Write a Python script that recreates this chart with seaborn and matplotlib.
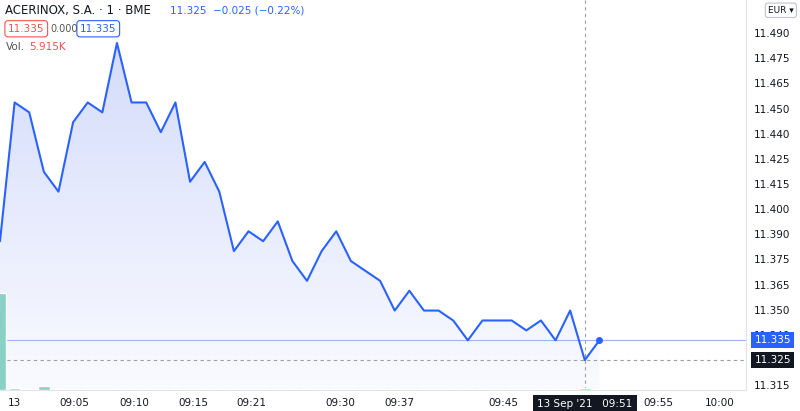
import matplotlib
matplotlib.use('Agg')
import matplotlib.pyplot as plt
import numpy as np
import seaborn as sns

# one-minute closes, ACERINOX BME, 13 Sep 2021
price = [11.385, 11.455, 11.450, 11.420, 11.410, 11.445, 11.455, 11.450, 11.485, 11.455,
         11.455, 11.440, 11.455, 11.415, 11.425, 11.410, 11.380, 11.390, 11.385, 11.395,
         11.375, 11.365, 11.380, 11.390, 11.375, 11.370, 11.365, 11.350, 11.360, 11.350,
         11.350, 11.345, 11.335, 11.345, 11.345, 11.345, 11.340, 11.345, 11.335, 11.350,
         11.325, 11.335]
volume = [5915, 150, 60, 250, 60, 40, 60, 70, 40, 60, 40, 60, 40, 60, 40, 70, 40, 40, 40, 50,
          50, 40, 50, 50, 40, 50, 50, 50, 50, 40, 50, 40, 40, 40, 40, 40, 50, 60, 50, 70, 120, 40]
vol_up = [1, 1, 0, 1, 0, 0, 1, 1, 0, 0, 0, 0, 0, 0, 0, 1, 0, 0, 0, 0,
          0, 0, 0, 0, 0, 0, 0, 0, 1, 0, 0, 0, 0, 0, 1, 1, 1, 1, 0, 1, 0, 1]
tick_pos = [1.0, 5.1, 9.2, 13.2, 17.2, 23.3, 27.3, 34.4, 45.0, 49.2]
tick_lab = ['13', '09:05', '09:10', '09:15', '09:21', '09:30', '09:37', '09:45', '09:55', '10:00']
ytick_lab = ['11.490', '11.475', '11.465', '11.450', '11.440', '11.425', '11.415', '11.400',
             '11.390', '11.375', '11.365', '11.350', '11.340', '', '11.315']

sns.set_style('white')
plt.rcParams['font.family'] = ['DejaVu Sans']

fig = plt.figure(figsize=(8, 4.11), dpi=100)
ax = fig.add_axes([0, 0.051, 0.932, 0.949])
x = np.arange(len(price))
ymin, ymax = 11.3099, 11.5067

grad = np.linspace(1, 0, 256).reshape(-1, 1)
cmap = matplotlib.colors.LinearSegmentedColormap.from_list('g', ['#fafbff', '#d4dcfb'])
im = ax.imshow(grad, extent=[0, len(price) - 1, ymin, max(price)], aspect='auto', cmap=cmap,
               origin='upper', zorder=1)
poly = ax.fill_between(x, price, ymin, color='none')
im.set_clip_path(poly.get_paths()[0], transform=ax.transData)
sns.lineplot(x=x, y=price, ax=ax, color='#2962ff', lw=1.5, zorder=3)
ax.plot(x[-1], price[-1], 'o', color='#2962ff', ms=4, zorder=4)

ax.axhline(11.335, color='#9fb4f7', lw=0.8)
ax.axhline(11.325, color='#9a9ea8', lw=0.8, ls=(0, (3, 3)))
ax.axvline(40, color='#9a9ea8', lw=0.8, ls=(0, (3, 3)))

# volume on its own scale at the bottom, above the area fill
vax = ax.twinx()
vcol = ['#89d0c6' if u else '#f6b6b3' for u in vol_up]
vax.bar(x, volume, width=0.8, color=vcol, align='center')
vax.set_ylim(0, 5915 / 0.25)
vax.axis('off')

ax.set_xlim(0, 51)
ax.set_ylim(ymin, ymax)
ax.set_xticks(tick_pos, tick_lab)
ax.yaxis.tick_right()
ax.set_yticks(np.linspace(11.490, 11.3124, len(ytick_lab)))
ax.set_yticklabels(ytick_lab)
ax.tick_params(axis='both', length=0, labelsize=7.5, colors='#131722', pad=6)
for s in ['top', 'left']:
    ax.spines[s].set_visible(False)
ax.spines['right'].set_color('#e0e3eb')
ax.spines['bottom'].set_color('#e0e3eb')

fig.text(0.006, 0.975, 'ACERINOX, S.A. · 1 · BME', fontsize=8.5, color='#131722', va='center')
fig.text(0.2125, 0.975, '11.325  −0.025 (−0.22%)', fontsize=7.5, color='#2962ff', va='center')
for xx, t, c in [(0.01, '11.335', '#ef5350'), (0.1, '11.335', '#2962ff')]:
    fig.text(xx, 0.93, t, fontsize=7.5, color=c, va='center',
             bbox=dict(boxstyle='round,pad=0.3', fc='white', ec=c, lw=0.8))
fig.text(0.063, 0.93, '0.000', fontsize=7, color='#555', va='center')
fig.text(0.008, 0.885, 'Vol.', fontsize=7.5, color='#555', va='center')
fig.text(0.036, 0.885, '5.915K', fontsize=7.5, color='#ef5350', va='center')
fig.text(0.96, 0.975, 'EUR ▾', fontsize=6.5, color='#131722', va='center',
         bbox=dict(boxstyle='round,pad=0.3', fc='white', ec='#c0c3cb', lw=0.8))
ax.text(1.012, 11.335, '11.335', transform=ax.get_yaxis_transform(), fontsize=7.5,
        color='white', va='center', bbox=dict(boxstyle='square,pad=0.3', fc='#2962ff', ec='none'))
ax.text(1.012, 11.325, '11.325', transform=ax.get_yaxis_transform(), fontsize=7.5,
        color='white', va='center', bbox=dict(boxstyle='square,pad=0.3', fc='#131722', ec='none'))
ax.text(40, -0.035, '13 Sep \'21   09:51', transform=ax.get_xaxis_transform(), fontsize=7.5,
        color='white', ha='center', va='center', bbox=dict(boxstyle='square,pad=0.4', fc='#131722', ec='none'))

fig.savefig('out.png', dpi=100)
